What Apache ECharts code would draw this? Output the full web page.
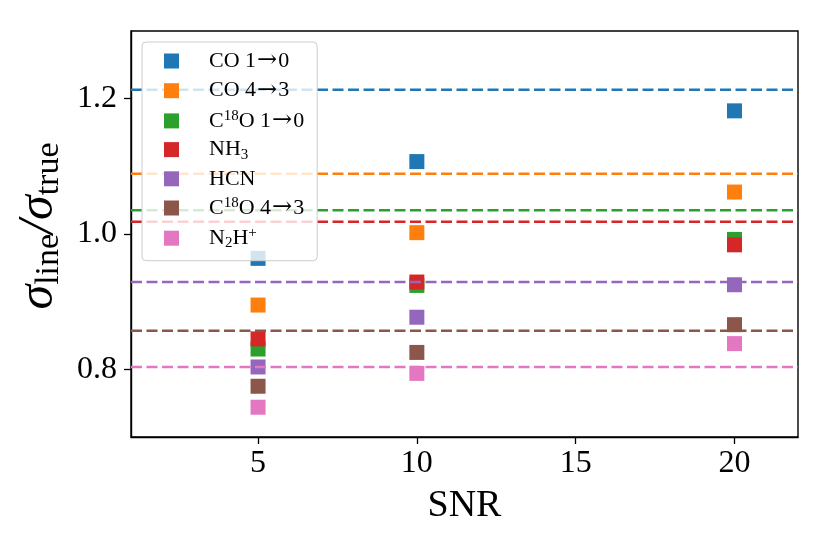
<!DOCTYPE html>
<html>
<head>
<meta charset="utf-8">
<script src="https://cdn.jsdelivr.net/npm/echarts@6/dist/echarts.min.js"></script>
<style>
  html, body { margin: 0; padding: 0; background: #fff; }
  #chart { width: 830px; height: 554px; }
</style>
</head>
<body>
<div id="chart"></div>
<script>
var snr = [5, 10, 20];
var lineNames = ['CO 1→0', 'CO 4→3', 'C¹⁸O 1→0', 'NH₃', 'HCN', 'C¹⁸O 4→3', 'N₂H⁺'];
var colors = ['#1f77b4', '#ff7f0e', '#2ca02c', '#d62728', '#9467bd', '#8c564b', '#e377c2'];

// measured sigma_line / sigma_true at each SNR
var ratios = [
    [0.964, 1.107, 1.182],
    [0.895, 1.002, 1.062],
    [0.830, 0.924, 0.992],
    [0.845, 0.929, 0.984],
    [0.8035, 0.877, 0.925],
    [0.775, 0.825, 0.866],
    [0.744, 0.794, 0.838]
];
// dashed reference levels
var levels = [1.213, 1.089, 1.035, 1.018, 0.929, 0.857, 0.8035];

var xRange = [1, 22];
var yRange = [0.7, 1.3];
var xTicks = [5, 10, 15, 20];
var yTicks = [0.8, 1.0, 1.2];

var font = '"Liberation Serif", "DejaVu Serif", serif';

// legend text: turn the unicode sub/superscripts into rich text pieces
function richName(name) {
    return name
        .replace('¹⁸', '{sup|18}')
        .replace('⁺', '{sup|+}')
        .replace('₃', '{sub|3}')
        .replace('₂', '{sub|2}')
        .replace('→', '{arr|→}');
}

var series = [];
lineNames.forEach(function (name, i) {
    series.push({
        name: name,
        type: 'scatter',
        symbol: 'rect',
        symbolSize: 15,
        itemStyle: { color: colors[i], opacity: 1 },
        data: snr.map(function (s, j) { return [s, ratios[i][j]]; }),
        z: 2
    });
});
// horizontal dashed levels, drawn over the squares
lineNames.forEach(function (name, i) {
    series.push({
        name: name + ' level',
        type: 'line',
        silent: true,
        showSymbol: false,
        symbol: 'none',
        z: 3,
        lineStyle: { color: colors[i], width: 2.5, type: [11, 4.5] },
        data: xRange.map(function (x) { return [x, levels[i]]; })
    });
});

var option = {
    animation: false,
    backgroundColor: '#fff',
    grid: {
        left: 131, right: 32, top: 31, bottom: 117,
        show: true, borderColor: '#000', borderWidth: 1.4, backgroundColor: 'transparent'
    },
    legend: {
        data: lineNames,
        orient: 'vertical',
        left: 142,
        top: 42,
        itemWidth: 15,
        itemHeight: 15,
        itemGap: 5.7,
        icon: 'rect',
        padding: [7, 13, 10, 22],
        backgroundColor: 'rgba(255,255,255,0.8)',
        borderColor: '#cccccc',
        borderWidth: 1,
        borderRadius: 4,
        formatter: richName,
        textStyle: {
            fontFamily: font, fontSize: 22, color: '#000', padding: [0, 0, 0, 25],
            rich: {
                sup: { fontFamily: font, fontSize: 15, color: '#000', padding: [0, 0, 10, 0] },
                sub: { fontFamily: font, fontSize: 15, color: '#000', padding: [10, 0, 0, 0] },
                arr: { fontFamily: '"DejaVu Serif", serif', fontSize: 24, color: '#000', padding: [0, 1, 0, 1] }
            }
        }
    },
    xAxis: {
        type: 'value',
        min: xRange[0],
        max: xRange[1],
        name: 'SNR',
        nameLocation: 'middle',
        nameGap: 50,
        nameTextStyle: { fontFamily: font, fontSize: 38, color: '#000' },
        axisLine: { show: true, lineStyle: { color: '#000', width: 1.4 } },
        axisTick: { show: true, length: 7, customValues: xTicks, lineStyle: { color: '#000', width: 1.3 } },
        axisLabel: { customValues: xTicks, fontFamily: font, fontSize: 32, color: '#000', margin: 11 },
        splitLine: { show: false }
    },
    yAxis: {
        type: 'value',
        min: yRange[0],
        max: yRange[1],
        name: '{s|σ}{sub|line}{s|/σ}{sub|true}',
        nameLocation: 'middle',
        nameGap: 51,
        nameTextStyle: {
            color: '#000',
            padding: [0, 0, 0, 16],
            rich: {
                s: { fontFamily: font, fontSize: 50, fontStyle: 'italic', color: '#000', verticalAlign: 'middle' },
                sub: { fontFamily: font, fontSize: 34, color: '#000', verticalAlign: 'middle', padding: [20, 0, 0, 0] }
            }
        },
        axisLine: { show: true, lineStyle: { color: '#000', width: 1.4 } },
        axisTick: { show: true, length: 7, customValues: yTicks, lineStyle: { color: '#000', width: 1.3 } },
        axisLabel: {
            customValues: yTicks,
            fontFamily: font, fontSize: 32, color: '#000', margin: 14,
            formatter: function (v) { return v.toFixed(1); }
        },
        splitLine: { show: false }
    },
    series: series
};

echarts.init(document.getElementById('chart')).setOption(option);
</script>
</body>
</html>
